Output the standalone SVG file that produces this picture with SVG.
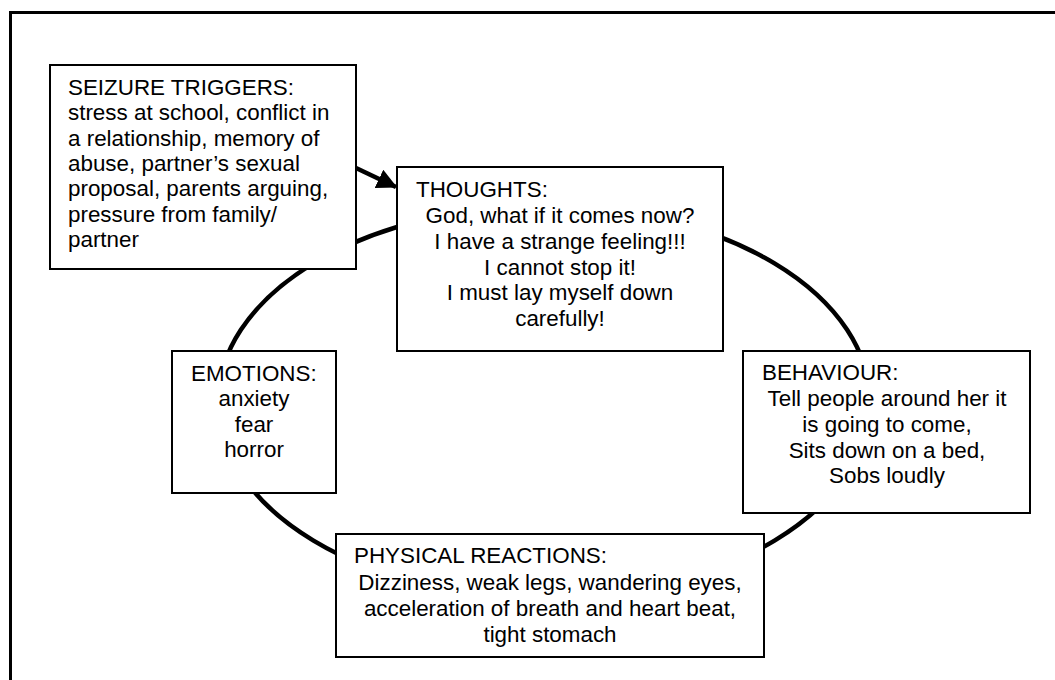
<svg xmlns="http://www.w3.org/2000/svg" width="1055" height="680" viewBox="0 0 1055 680">
<defs>
<style>
.box{fill:#fff;stroke:#000;stroke-width:2}
.t{font-family:"Liberation Sans",Arial,sans-serif;font-size:22.4px;fill:#000}
.c{text-anchor:middle}
</style>
<marker id="ah" markerWidth="4.5" markerHeight="4.5" refX="4.2" refY="2.25" orient="auto" markerUnits="strokeWidth"><path d="M0,0 L4.5,2.25 L0,4.5 Z" fill="#000"/></marker>
</defs>
<rect x="10.5" y="12.5" width="1100" height="720" fill="#fff" stroke="#000" stroke-width="3"/>
<g id="connectors">
<ellipse cx="544" cy="402" rx="326" ry="196" fill="none" stroke="#000" stroke-width="4.5"/>
<line x1="356" y1="168" x2="396" y2="187" stroke="#000" stroke-width="4.5" marker-end="url(#ah)"/>
</g>
<g id="triggers">
<rect class="box" x="50" y="65" width="306" height="204"/>
<text class="t" x="68" y="95">SEIZURE TRIGGERS:</text>
<text class="t" x="68" y="120.3">stress at school, conflict in</text>
<text class="t" x="68" y="145.6">a relationship, memory of</text>
<text class="t" x="68" y="170.9">abuse, partner’s sexual</text>
<text class="t" x="68" y="196.2">proposal, parents arguing,</text>
<text class="t" x="68" y="221.5">pressure from family/</text>
<text class="t" x="68" y="246.8">partner</text>
</g>
<g id="thoughts">
<rect class="box" x="397" y="167" width="326" height="184"/>
<text class="t" x="416" y="197">THOUGHTS:</text>
<text class="t c" x="560" y="223">God, what if it comes now?</text>
<text class="t c" x="560" y="249">I have a strange feeling!!!</text>
<text class="t c" x="560" y="274.5">I cannot stop it!</text>
<text class="t c" x="560" y="300">I must lay myself down</text>
<text class="t c" x="560" y="326">carefully!</text>
</g>
<g id="behaviour">
<rect class="box" x="743" y="351" width="287" height="162"/>
<text class="t" x="762" y="380">BEHAVIOUR:</text>
<text class="t c" x="887" y="406">Tell people around her it</text>
<text class="t c" x="887" y="432">is going to come,</text>
<text class="t c" x="887" y="457.5">Sits down on a bed,</text>
<text class="t c" x="887" y="483">Sobs loudly</text>
</g>
<g id="emotions">
<rect class="box" x="172" y="351" width="164" height="142"/>
<text class="t" x="191" y="381">EMOTIONS:</text>
<text class="t c" x="254" y="406">anxiety</text>
<text class="t c" x="254" y="432">fear</text>
<text class="t c" x="254" y="457">horror</text>
</g>
<g id="physical">
<rect class="box" x="336" y="534" width="428" height="123"/>
<text class="t" x="354" y="563">PHYSICAL REACTIONS:</text>
<text class="t c" x="550" y="590">Dizziness, weak legs, wandering eyes,</text>
<text class="t c" x="550" y="616">acceleration of breath and heart beat,</text>
<text class="t c" x="550" y="642">tight stomach</text>
</g>
</svg>
